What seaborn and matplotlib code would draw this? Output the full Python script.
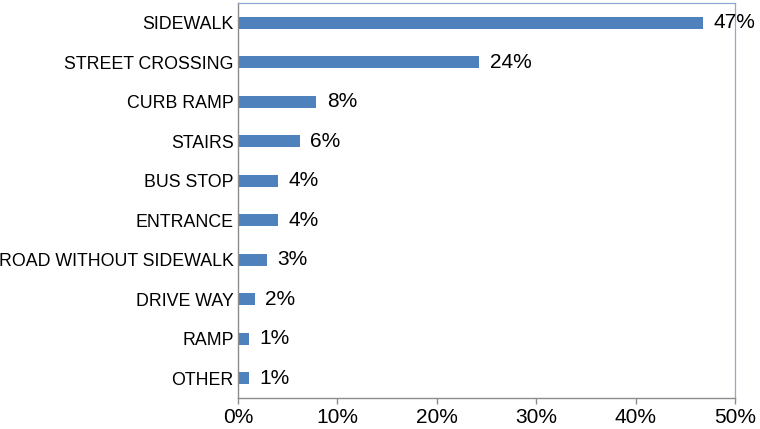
import numpy as np
import pandas as pd
import matplotlib
matplotlib.use("Agg")
import matplotlib.pyplot as plt
import seaborn as sns
from matplotlib.ticker import FuncFormatter

# data
categories = ["SIDEWALK", "STREET CROSSING", "CURB RAMP", "STAIRS", "BUS STOP",
              "ENTRANCE", "ROAD WITHOUT SIDEWALK", "DRIVE WAY", "RAMP", "OTHER"]
shares = [46.8, 24.3, 7.9, 6.2, 4.0, 4.0, 2.9, 1.7, 1.1, 1.1]
labels = ["47%", "24%", "8%", "6%", "4%", "4%", "3%", "2%", "1%", "1%"]
xticks = [0, 10, 20, 30, 40, 50]

sns.set_style("white")
plt.rcParams['font.family'] = ['Liberation Sans', 'DejaVu Sans']
plt.rcParams['text.color'] = 'black'
plt.rcParams['xtick.color'] = 'black'
plt.rcParams['ytick.color'] = 'black'

df = pd.DataFrame({"cat": categories, "share": shares})

fig = plt.figure(figsize=(7.6, 4.29), dpi=100)
ax = fig.add_axes([0.313, 0.0723, 0.654, 0.921])
sns.barplot(data=df, x="share", y="cat", color="#4F81BD", width=0.3,
            saturation=1, linewidth=0, ax=ax, orient="h")

for i in range(len(shares)):
    ax.annotate(labels[i], xy=(shares[i], i), xytext=(7.5, 0),
                textcoords="offset points", va="center", ha="left",
                fontsize=15, color="black", annotation_clip=False)

ax.set_xlim(0, 50)
ax.set_ylim(len(categories) - 0.5, -0.5)
ax.set_xticks(xticks)
ax.xaxis.set_major_formatter(FuncFormatter(lambda v, p: f"{v:.0f}%"))
ax.set_xlabel("")
ax.set_ylabel("")
ax.tick_params(axis="x", labelsize=15, length=4, width=1, color="#8C8C8C",
               labelcolor="black", direction="out", bottom=True, pad=3)
ax.tick_params(axis="y", labelsize=12.8, length=0, pad=3, labelcolor="black")

for s in ["left", "bottom"]:
    ax.spines[s].set_color("#8C8C8C")
    ax.spines[s].set_linewidth(1.0)
for s in ["top", "right"]:
    ax.spines[s].set_color("#8EAAD0")
    ax.spines[s].set_linewidth(0.9)

fig.savefig("out.png", dpi=100)
